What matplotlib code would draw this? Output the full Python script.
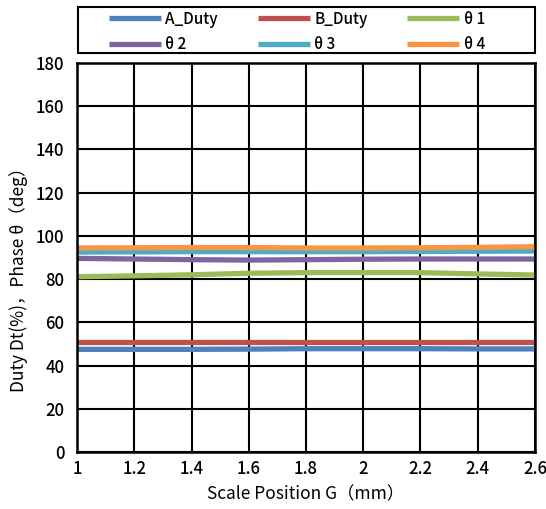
import matplotlib
matplotlib.use("Agg")
import matplotlib.pyplot as plt
from matplotlib.patches import Rectangle
import numpy as np

plt.rcParams['font.family'] = ['Noto Sans CJK JP', 'DejaVu Sans']
plt.rcParams['font.weight'] = 'medium'

# data
pos = [1.0, 1.2, 1.4, 1.6, 1.8, 2.0, 2.2, 2.4, 2.6]
a_duty = [47.5, 47.5, 47.5, 47.6, 47.8, 47.8, 47.8, 47.7, 47.7]
b_duty = [51.0, 51.0, 51.0, 51.0, 51.0, 51.0, 51.0, 51.0, 51.0]
theta1 = [81.1, 81.5, 82.0, 82.7, 83.0, 83.0, 83.0, 82.4, 81.9]
theta2 = [89.6, 89.3, 89.0, 88.8, 89.0, 89.2, 89.3, 89.3, 89.3]
theta3 = [92.5, 92.6, 92.7, 92.7, 92.7, 92.7, 92.8, 92.9, 93.0]
theta4 = [94.4, 94.5, 94.6, 94.6, 94.4, 94.4, 94.5, 94.7, 95.0]

series = [("A_Duty", a_duty, "#4F81BD"),
          ("B_Duty", b_duty, "#C0504D"),
          ("θ 1", theta1, "#9BBB59"),
          ("θ 2", theta2, "#8064A2"),
          ("θ 3", theta3, "#4BACC6"),
          ("θ 4", theta4, "#F79646")]

fig = plt.figure(figsize=(5.46, 5.09), dpi=100)
ax = fig.add_axes([77/546, 1-452/509, (535-77)/546, (452-63)/509])

lines = {}
for name, vals, col in series:
    ln, = ax.plot(pos, vals, color=col, linewidth=3.8, solid_capstyle='butt', label=name)
    lines[name] = ln

ax.set_xlim(1, 2.6)
ax.set_ylim(0, 180)
ax.set_xticks(np.arange(1, 2.61, 0.2))
ax.set_xticklabels(['1', '1.2', '1.4', '1.6', '1.8', '2', '2.2', '2.4', '2.6'])
ax.set_yticks(np.arange(0, 181, 20))
ax.grid(True, color='black', linewidth=1.5)
ax.set_axisbelow(True)
for s in ax.spines.values():
    s.set_linewidth(1.8)
ax.tick_params(axis='y', length=0, labelsize=12, pad=9)
ax.tick_params(axis='x', length=0, labelsize=12, pad=6)

ax.set_xlabel("Scale Position G（mm）", fontsize=12.5, labelpad=5)
ax.set_ylabel("Duty Dt(%)，Phase θ（deg）", fontsize=12.5)
ax.yaxis.set_label_coords(-0.108, 0.455)

# legend box drawn separately so it spans the plot width
fig.patches.append(Rectangle((78/546, 1-53/509), (535-78)/546, 46/509,
                             transform=fig.transFigure, fill=False,
                             edgecolor='black', linewidth=1.5))

# legend is filled column by column, so reorder to get row-wise layout
order = ["A_Duty", "θ 2", "B_Duty", "θ 3", "θ 1", "θ 4"]
leg = fig.legend([lines[k] for k in order], order, ncol=3,
                 loc='center', bbox_to_anchor=(297/546, 1-32/509),
                 fontsize=11, handlelength=3.4, frameon=False,
                 labelspacing=0.55, handletextpad=0.3, columnspacing=2.6)

plt.savefig("out.png", dpi=100)
